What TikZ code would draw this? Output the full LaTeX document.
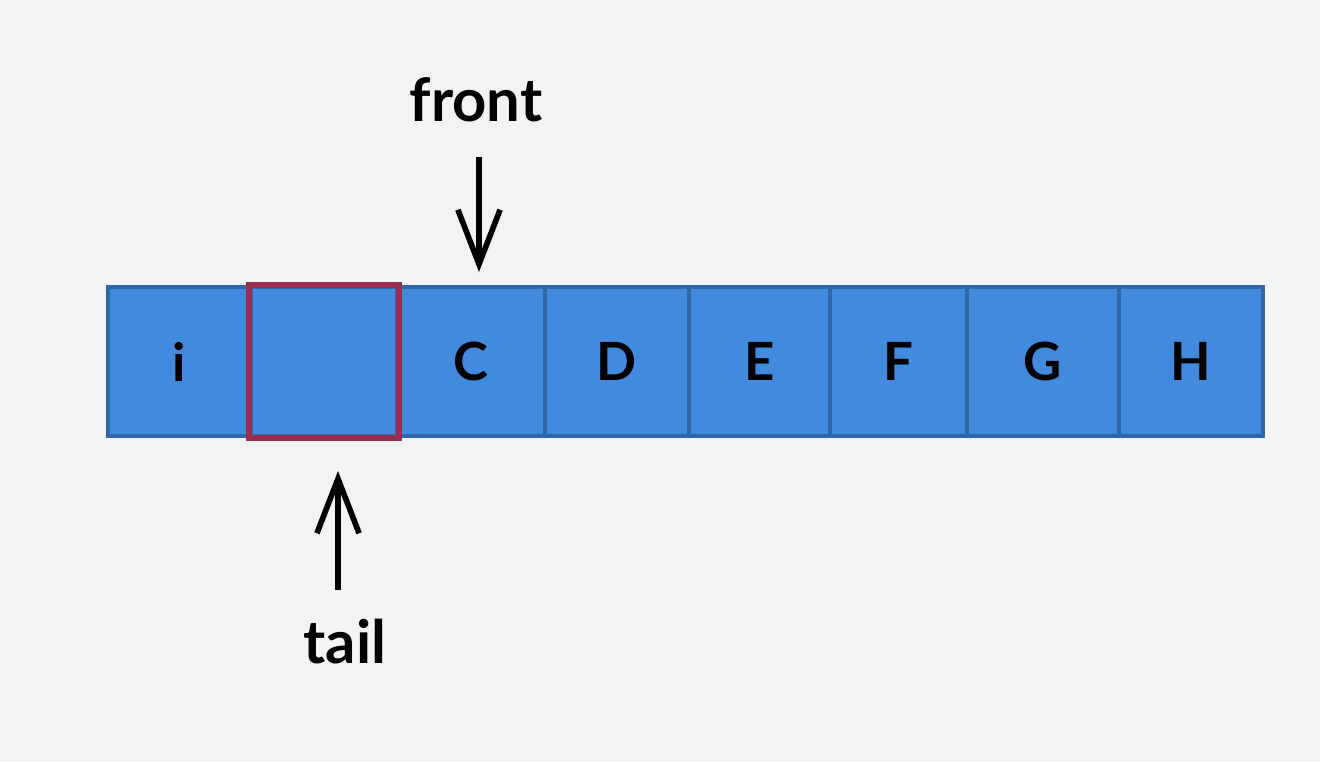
\documentclass[tikz,border=0pt]{standalone}
\usepackage{fontspec}
\setmainfont{Lato}
\usetikzlibrary{arrows.meta}

\definecolor{bgcol}{HTML}{F1F3F5}
\definecolor{cellfill}{HTML}{428ADE}
\definecolor{celledge}{HTML}{2F67AA}
\definecolor{tailred}{HTML}{9B2E50}

\tikzset{
    cell/.style={draw=celledge, fill=cellfill, line width=2.6pt, minimum height=2.98cm,
        inner sep=0pt, font=\fontsize{30}{36}\selectfont\bfseries},
    pointer/.style={-{Straight Barb[length=31pt, width=24pt, line width=3.2pt]}, line width=3.2pt, black},
    ptrlabel/.style={font=\fontsize{34}{40}\selectfont\bfseries, inner sep=0pt}
}

\begin{document}
\begin{tikzpicture}[x=0.02cm, y=-0.02cm]
        % Canvas
        \useasboundingbox[fill=bgcol] (0,0) rectangle (1320,762);

        % Array cells
        \node[cell, minimum width=2.86cm] (c1) at (179.5,361.5) {i};
        \node[cell, minimum width=2.92cm] (c2) at (324,361.5) {};
        \node[cell, minimum width=2.96cm] (c3) at (471,361.5) {C};
        \node[cell, minimum width=2.88cm] (c4) at (617,361.5) {D};
        \node[cell, minimum width=2.82cm] (c5) at (759.5,361.5) {E};
        \node[cell, minimum width=2.74cm] (c6) at (898.5,361.5) {F};
        \node[cell, minimum width=3.04cm] (c7) at (1043,361.5) {G};
        \node[cell, minimum width=2.88cm] (c8) at (1191,361.5) {H};

        % Empty slot (red border)
        \draw[tailred, line width=3.2pt] (c2.north west) rectangle (c2.south east);

        % front pointer
        \node[ptrlabel] (front) at (476,100) {front};
        \coordinate (fronttop) at (479,157);
        \coordinate (fronttip) at (479,272);
        \draw[pointer] (fronttop) -- (fronttip);

        % tail pointer
        \node[ptrlabel] (tail) at (345,642) {tail};
        \coordinate (tailbot) at (338,590);
        \coordinate (tailtip) at (338,471);
        \draw[pointer] (tailbot) -- (tailtip);
\end{tikzpicture}
\end{document}
